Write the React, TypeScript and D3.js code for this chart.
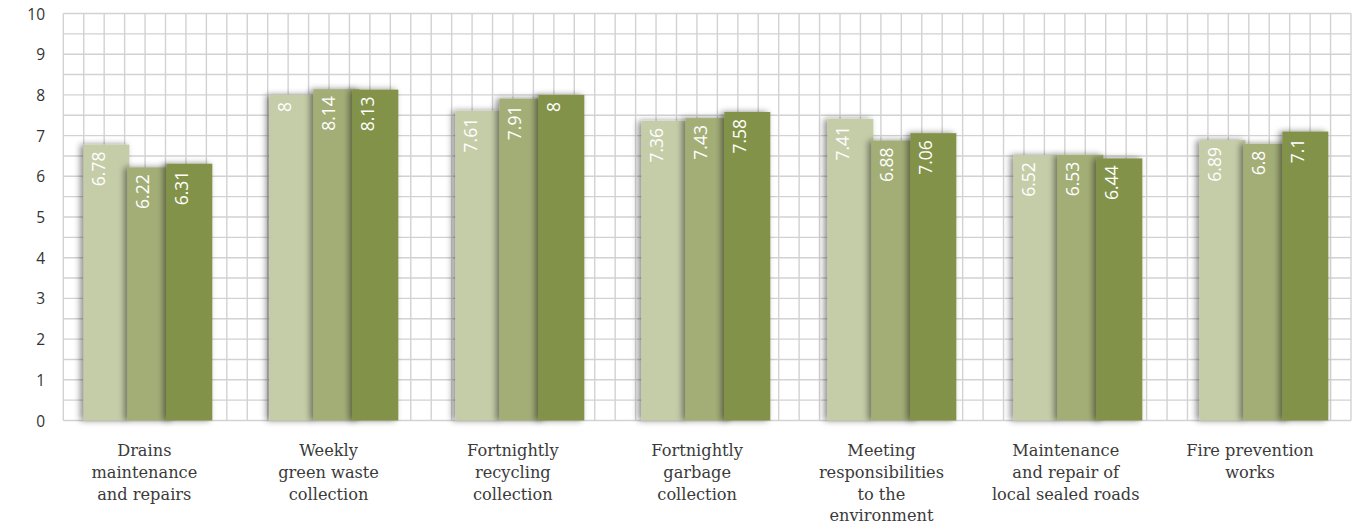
import React from "react";
import * as d3 from "d3";

const categories = [
  "Drains maintenance and repairs",
  "Weekly green waste collection",
  "Fortnightly recycling collection",
  "Fortnightly garbage collection",
  "Meeting responsibilities to the environment",
  "Maintenance and repair of local sealed roads",
  "Fire prevention works",
];
const categoryLines = [
  ["Drains", "maintenance", "and repairs"],
  ["Weekly", "green waste", "collection"],
  ["Fortnightly", "recycling", "collection"],
  ["Fortnightly", "garbage", "collection"],
  ["Meeting", "responsibilities", "to the", "environment"],
  ["Maintenance", "and repair of", "local sealed roads"],
  ["Fire prevention", "works"],
];
const seriesNames = ["Series 1", "Series 2", "Series 3"];
const series1 = [6.78, 8, 7.61, 7.36, 7.41, 6.52, 6.89];
const series2 = [6.22, 8.14, 7.91, 7.43, 6.88, 6.53, 6.8];
const series3 = [6.31, 8.13, 8, 7.58, 7.06, 6.44, 7.1];
const seriesValues = [series1, series2, series3];
const seriesColors = ["#c5cda8", "#a3ae77", "#82934a"];
const yTicks = [0, 1, 2, 3, 4, 5, 6, 7, 8, 9, 10];

const W = 1370;
const H = 527;
const plotLeft = 63.3;
const plotRight = 1351;
const plotTop = 13.5;
const plotBottom = 420.5;

export default function App() {
  const y = d3.scaleLinear().domain([0, 10]).range([plotBottom, plotTop]);
  const x = d3
    .scaleBand<string>()
    .domain(categories)
    .range([54.7, 1356.7])
    .paddingInner(0.308)
    .paddingOuter(0.154);
  const sub = d3.scaleOrdinal<string, number>().domain(seriesNames).range([0, 44, 83]);
  const barW = 46;
  const labelX = d3.scalePoint<string>().domain(categories).range([144.3, 1250]);

  const hLines = d3.range(0, 10.001, 0.5);
  const nCols = 63;
  const gx = d3.scaleLinear().domain([0, nCols]).range([plotLeft, plotRight]);
  const vLines = d3.range(0, nCols + 1);

  return (
    <svg
      width={W}
      height={H}
      style={{ position: "absolute", left: 0, top: 0, background: "#fff" }}
    >
      <defs>
        <filter id="sh" x="-30%" y="-10%" width="160%" height="120%">
          <feDropShadow dx={-3} dy={0} stdDeviation={3} floodColor="#000" floodOpacity={0.45} />
        </filter>
      </defs>
      <g>
        {hLines.map((v) => (
          <line
            key={"h" + v}
            x1={plotLeft}
            x2={plotRight}
            y1={y(v)}
            y2={y(v)}
            stroke="#d2d2d2"
            strokeWidth={1.4}
          />
        ))}
        {vLines.map((i) => (
          <line
            key={"v" + i}
            x1={gx(i)}
            x2={gx(i)}
            y1={plotTop}
            y2={plotBottom}
            stroke="#d2d2d2"
            strokeWidth={1.4}
          />
        ))}
      </g>
      <g fontFamily="'Open Sans', sans-serif" fontSize={15.5} fill="#333">
        {yTicks.map((t) => (
          <text key={t} x={45} y={y(t)} textAnchor="end" dominantBaseline="central">
            {t}
          </text>
        ))}
      </g>
      {seriesNames.map((s, si) => (
        <g key={s}>
          {categories.map((c, ci) => {
            const v = seriesValues[si][ci];
            const bx = (x(c) as number) + sub(s);
            const top = y(v);
            return (
              <g key={c}>
                <rect
                  x={bx}
                  y={top}
                  width={barW}
                  height={y(0) - top}
                  fill={seriesColors[si]}
                  filter="url(#sh)"
                />
                <text
                  transform={`translate(${bx + 15},${top + 7}) rotate(-90)`}
                  textAnchor="end"
                  dominantBaseline="central"
                  fill="#fff"
                  fontFamily="'Open Sans', sans-serif"
                  fontSize={17.5}
                >
                  {v}
                </text>
              </g>
            );
          })}
        </g>
      ))}
      <g fontFamily="'DejaVu Serif', serif" fontSize={16.2} fill="#3a3a3a">
        {categories.map((c, ci) => (
          <text key={c} x={labelX(c)} y={456} textAnchor="middle">
            {categoryLines[ci].map((ln, li) => (
              <tspan key={li} x={labelX(c)} dy={li === 0 ? 0 : 21.8}>
                {ln}
              </tspan>
            ))}
          </text>
        ))}
      </g>
    </svg>
  );
}
